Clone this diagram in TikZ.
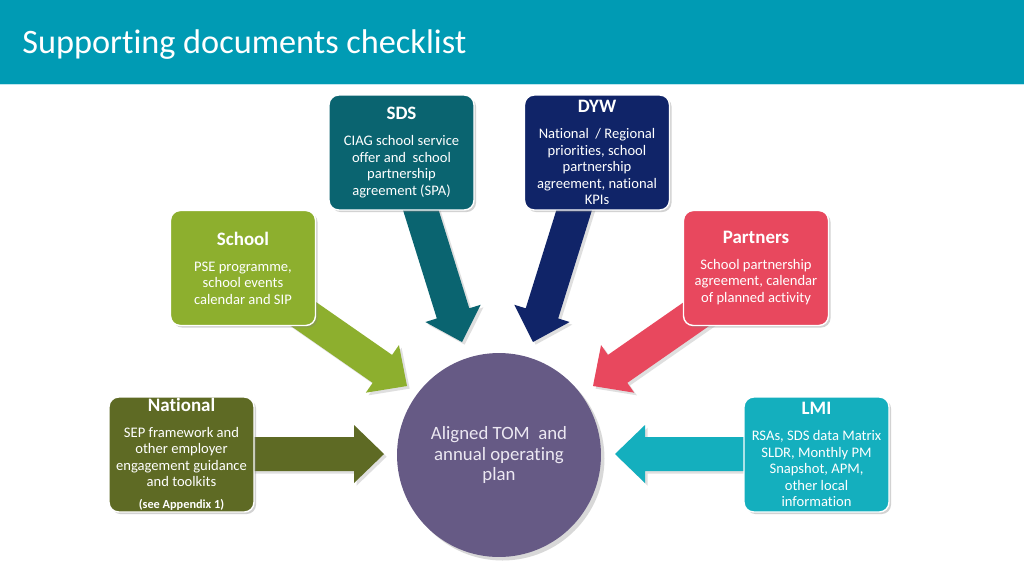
\documentclass[tikz,border=0pt]{standalone}
\usepackage{fontspec}
\setmainfont{Carlito}[Ligatures={NoCommon,NoContextual}]
\usetikzlibrary{calc,shadows}
\definecolor{hdr}{RGB}{0,155,180}
\definecolor{hdrline}{RGB}{190,230,238}
\definecolor{sdsc}{RGB}{10,100,112}
\definecolor{dywc}{RGB}{16,36,104}
\definecolor{schoolc}{RGB}{141,175,46}
\definecolor{partnc}{RGB}{232,72,94}
\definecolor{natc}{RGB}{94,106,36}
\definecolor{lmic}{RGB}{20,175,190}
\definecolor{planc}{RGB}{102,90,133}
\definecolor{plantext}{RGB}{236,232,242}
\newcommand{\blockarrow}[3]{%
  \coordinate (bh) at ($(#2)!0.6cm!(#1)$);
  \fill[#3, arrowshadow] ($(#1)!0.34cm!90:(#2)$) -- ($(bh)!0.34cm!-90:(#1)$) -- ($(bh)!0.58cm!-90:(#1)$) -- (#2) -- ($(bh)!0.58cm!90:(#1)$) -- ($(bh)!0.34cm!90:(#1)$) -- ($(#1)!0.34cm!-90:(#2)$) -- cycle;
}
\tikzset{
  arrowshadow/.style={drop shadow={opacity=0.25, shadow xshift=1.5pt, shadow yshift=-1.5pt}},
  box/.style={rounded corners=5.5pt, draw=white, line width=0.8pt, minimum width=2.9cm, minimum height=2.3cm,
    align=center, text=white, inner sep=0.5pt, font=\fontsize{8.3}{9.4}\selectfont,
    drop shadow={opacity=0.35, shadow xshift=1.2pt, shadow yshift=-1.2pt}},
}
\newcommand{\boxtitle}[1]{{\fontsize{10.8}{13}\selectfont\bfseries #1}\\[5.3pt]}
\begin{document}
\begin{tikzpicture}[x=0.02cm, y=-0.02cm]
\useasboundingbox (0,0) rectangle (1024,576);
\fill[white] (0,0) rectangle (1024,576);
% header
\fill[hdr] (0,0) rectangle (1024,84);
\draw[hdrline, line width=0.8pt] (0,84.5) -- (1024,84.5);
\node[anchor=base west, text=white, inner sep=0pt, font=\fontsize{19.5}{23}\selectfont] (title) at (22,53) {Supporting documents checklist};

% arrow coordinates
\coordinate (sdsS) at (413,185);   \coordinate (sdsT) at (462,342);
\coordinate (dywS) at (582,185);   \coordinate (dywT) at (533,342);
\coordinate (schS) at (292,306);   \coordinate (schT) at (407,386);
\coordinate (parS) at (708,306);   \coordinate (parT) at (593,386);
\coordinate (natS) at (240,454);   \coordinate (natT) at (384,454);
\coordinate (lmiS) at (760,454);   \coordinate (lmiT) at (615,454);

\blockarrow{sdsS}{sdsT}{sdsc}
\blockarrow{dywS}{dywT}{dywc}
\blockarrow{schS}{schT}{schoolc}
\blockarrow{parS}{parT}{partnc}
\blockarrow{natS}{natT}{natc}
\blockarrow{lmiS}{lmiT}{lmic}

% boxes
\node[box, fill=sdsc] (sds) at (401.5,152.5) {\boxtitle{SDS}CIAG school service\\offer and\ \ school\\partnership\\agreement (SPA)};
\node[box, fill=dywc] (dyw) at (597,152.5) {\boxtitle{DYW}National\ \ / Regional\\priorities, school\\partnership\\agreement, national\\KPIs};
\node[box, fill=schoolc] (school) at (243,268) {\boxtitle{School}PSE programme,\\school events\\calendar and SIP};
\node[box, fill=partnc] (partners) at (756,268) {\boxtitle{Partners}School partnership\\agreement, calendar\\of planned activity};
\node[box, fill=natc] (national) at (181.5,454.5) {\boxtitle{National}SEP framework and\\other employer\\engagement guidance\\and toolkits\\[3.1pt]{\fontsize{7}{8}\selectfont\bfseries (see Appendix 1)}};
\node[box, fill=lmic] (lmi) at (816.5,454.5) {\boxtitle{LMI}RSAs, SDS data Matrix\\SLDR, Monthly PM\\Snapshot, APM,\\other local\\information};

% centre circle
\node[circle, fill=planc, minimum size=4.08cm, inner sep=0pt, align=center, text=plantext,
  font=\fontsize{10.7}{11.9}\selectfont,
  drop shadow={opacity=0.3, shadow xshift=2pt, shadow yshift=-2pt}] (plan) at (499,455)
  {Aligned TOM\ \ and\\annual operating\\plan};
\end{tikzpicture}
\end{document}
